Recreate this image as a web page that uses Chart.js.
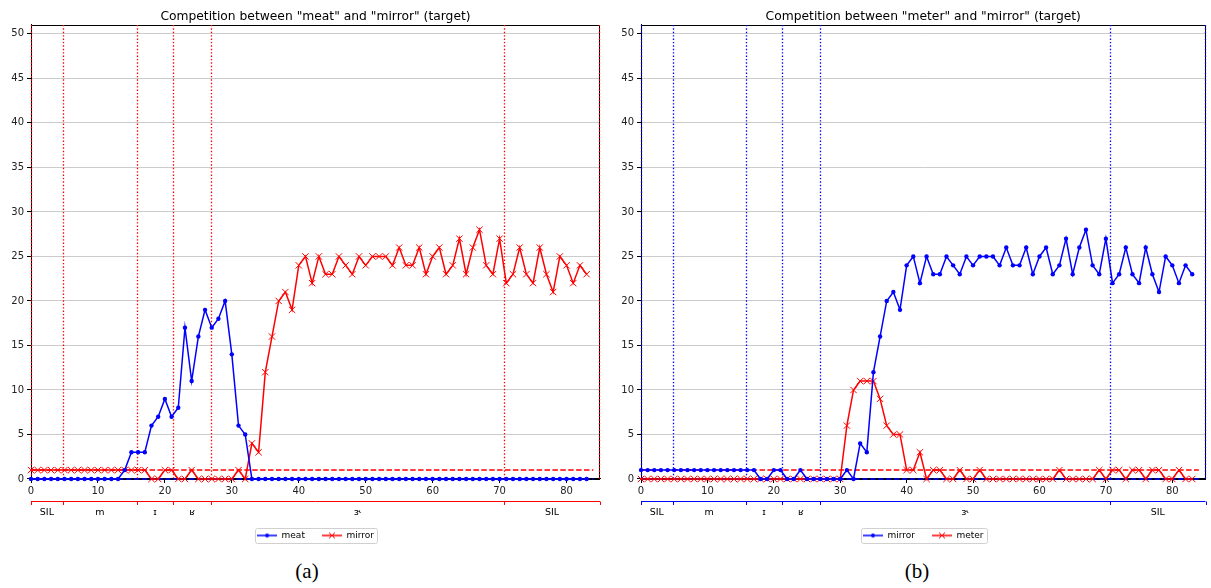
<!DOCTYPE html>
<html>
<head>
<meta charset="utf-8">
<script src="https://cdn.jsdelivr.net/npm/chart.js@4.4.1/dist/chart.umd.min.js"></script>
<style>
  body { margin:0; background:#fff; width:1211px; height:588px; position:relative; overflow:hidden; }
  #wrapA { position:absolute; left:0; top:0; width:610px; height:555px; }
  #wrapB { position:absolute; left:610px; top:0; width:601px; height:555px; }
  .cap { position:absolute; top:559px; width:60px; text-align:center; font-family:"Liberation Serif", serif; font-size:21px; color:#000; }
</style>
</head>
<body>
<div id="wrapA"><canvas id="chartA"></canvas></div>
<div id="wrapB"><canvas id="chartB"></canvas></div>
<div class="cap" style="left:277px">(a)</div>
<div class="cap" style="left:887px">(b)</div>
<script>
// frame counts per word (x = frame index 0..83)
var mirror = [
  1,1,1,1,1,1,1,1,1,1,
  1,1,1,1,1,1,1,1,0,0,
  1,1,0,0,1,0,0,0,0,0,
  0,1,0,4,3,12,16,20,21,19,
  24,25,22,25,23,23,25,24,23,25,
  24,25,25,25,24,26,24,24,26,23,
  25,26,23,24,27,23,26,28,24,23,
  27,22,23,26,23,22,26,23,21,25,
  24,22,24,23
];
var meat = [
  0,0,0,0,0,0,0,0,0,0,
  0,0,0,0,1,3,3,3,6,7,
  9,7,8,17,11,16,19,17,18,20,
  14,6,5,0,0,0,0,0,0,0,
  0,0,0,0,0,0,0,0,0,0,
  0,0,0,0,0,0,0,0,0,0,
  0,0,0,0,0,0,0,0,0,0,
  0,0,0,0,0,0,0,0,0,0,
  0,0,0,0
];
var meter = [
  0,0,0,0,0,0,0,0,0,0,
  0,0,0,0,0,0,0,0,0,0,
  0,0,0,0,0,0,0,0,0,0,
  0,6,10,11,11,11,9,6,5,5,
  1,1,3,0,1,1,0,0,1,0,
  0,1,0,0,0,0,0,0,0,0,
  0,0,0,1,0,0,0,0,0,1,
  0,1,1,0,1,1,0,1,1,0,
  0,1,0,0
];
// phone segments (boundaries in frames) shown under the x axis
var segBounds = [0, 4.75, 15.8, 21.25, 26.9, 70.65, 85];
var segLabels = ['SIL', 'm', 'ɪ', 'ʁ', 'ɝ', 'SIL'];
// dashed reference levels
var levelX = [0, 84];
var redLevel = 1;
var blueLevel = 0;
var xTicks = [0, 10, 20, 30, 40, 50, 60, 70, 80];
var yTicks = [0, 5, 10, 15, 20, 25, 30, 35, 40, 45, 50];

var BLUE = '#0000ff', RED = '#ff0000';
Chart.defaults.font.family = 'DejaVu Sans';
Chart.defaults.color = '#000';

function toPoints(arr) {
  var pts = [];
  for (var i = 0; i < arr.length; i++) pts.push({x: i, y: arr[i]});
  return pts;
}

function legendIcon(color, marker) {
  var c = document.createElement('canvas');
  c.width = 20; c.height = 10;
  var g = c.getContext('2d');
  g.strokeStyle = color; g.fillStyle = color; g.lineWidth = 1.5;
  g.beginPath(); g.moveTo(0, 5); g.lineTo(20, 5); g.stroke();
  if (marker == 'dot') {
    g.beginPath(); g.arc(10, 5, 2, 0, Math.PI * 2); g.fill();
  } else {
    g.lineWidth = 1;
    g.beginPath(); g.moveTo(7, 2); g.lineTo(13, 8); g.moveTo(13, 2); g.lineTo(7, 8); g.stroke();
  }
  return c;
}

// vertical segment lines, spines, segment bracket and legend frame
var extras = {
  id: 'extras',
  beforeDraw: function(chart) {
    var lg = chart.legend;
    if (!lg || !lg.legendHitBoxes || !lg.legendHitBoxes.length) return;
    var hb = lg.legendHitBoxes, last = hb[hb.length - 1];
    var l = Math.round(hb[0].left - 2) + 0.5, r = Math.round(last.left + last.width + 3) + 0.5;
    var t = Math.round(hb[0].top - 3) + 0.5, b = Math.round(hb[0].top + hb[0].height + 3) + 0.5;
    var ctx = chart.ctx;
    ctx.save();
    ctx.strokeStyle = '#d0d0d0'; ctx.lineWidth = 1;
    ctx.beginPath();
    ctx.roundRect(l, t, r - l, b - t, 2);
    ctx.stroke();
    ctx.restore();
  },
  beforeDatasetsDraw: function(chart, args, o) {
    var ctx = chart.ctx, a = chart.chartArea, xs = chart.scales.x;
    ctx.save();
    ctx.strokeStyle = '#000'; ctx.lineWidth = 1;
    ctx.strokeRect(Math.round(a.left) + 0.5, Math.round(a.top) + 0.5, Math.round(a.right - a.left) - 1, Math.round(a.bottom - a.top));
    ctx.strokeStyle = o.color; ctx.lineWidth = 1.3; ctx.setLineDash([1.4, 2]);
    for (var i = 0; i < segBounds.length; i++) {
      var px = Math.round(xs.getPixelForValue(segBounds[i])) + 0.5;
      if (i == segBounds.length - 1) px -= 1;
      ctx.beginPath(); ctx.moveTo(px, a.top); ctx.lineTo(px, a.bottom); ctx.stroke();
    }
    ctx.restore();
  },
  afterDatasetsDraw: function(chart, args, o) {
    var ctx = chart.ctx, a = chart.chartArea, xs = chart.scales.x;
    var yLine = Math.round(a.bottom + 22) + 0.5;
    ctx.save();
    ctx.strokeStyle = o.color; ctx.lineWidth = 1;
    var x0 = xs.getPixelForValue(segBounds[0]), x1 = xs.getPixelForValue(segBounds[segBounds.length - 1]);
    ctx.beginPath(); ctx.moveTo(x0, yLine); ctx.lineTo(x1, yLine); ctx.stroke();
    for (var i = 0; i < segBounds.length; i++) {
      var px = Math.round(xs.getPixelForValue(segBounds[i])) + 0.5;
      ctx.beginPath(); ctx.moveTo(px, yLine); ctx.lineTo(px, yLine + 3.5); ctx.stroke();
    }
    ctx.fillStyle = '#000'; ctx.font = '9.5px "DejaVu Sans"';
    ctx.textAlign = 'center'; ctx.textBaseline = 'middle';
    for (var k = 0; k < segLabels.length; k++) {
      var mid = (segBounds[k] + segBounds[k + 1]) / 2;
      ctx.fillText(segLabels[k], xs.getPixelForValue(mid), a.bottom + 34);
    }
    ctx.restore();
  }
};

function makeChart(id, title, blueName, blueData, redName, redData, segColor, padRight) {
  var data = {
    datasets: [{
      label: blueName,
      data: toPoints(blueData),
      borderColor: BLUE,
      backgroundColor: BLUE,
      borderWidth: 1.5,
      pointStyle: 'circle',
      pointRadius: 2.2,
      pointBorderWidth: 0,
      clip: false
    }, {
      label: redName,
      data: toPoints(redData),
      borderColor: RED,
      backgroundColor: RED,
      borderWidth: 1.5,
      pointStyle: 'crossRot',
      pointRadius: 4.5,
      pointBorderWidth: 1,
      clip: false
    }, {
      label: 'level red',
      data: [{x: levelX[0], y: redLevel}, {x: levelX[1], y: redLevel}],
      borderColor: RED,
      borderWidth: 1.5,
      borderDash: [5.5, 2.4],
      pointRadius: 0,
      clip: false
    }, {
      label: 'level blue',
      data: [{x: levelX[0], y: blueLevel}, {x: levelX[1], y: blueLevel}],
      borderColor: BLUE,
      borderWidth: 1.5,
      borderDash: [5.5, 2.4],
      pointRadius: 0,
      clip: false
    }]
  };

  var config = {
    type: 'line',
    data: data,
    plugins: [extras],
    options: {
      responsive: true,
      maintainAspectRatio: false,
      animation: false,
      events: [],
      layout: { padding: { left: 0, right: padRight, top: 0, bottom: 5 } },
      elements: { line: { tension: 0 } },
      scales: {
        x: {
          type: 'linear', min: 0, max: 85,
          afterBuildTicks: function(s) { s.ticks = xTicks.map(function(v) { return {value: v}; }); },
          ticks: { font: {size: 10}, color: '#222', padding: 2, maxRotation: 0, autoSkip: false },
          grid: { drawOnChartArea: false, tickLength: 4, tickColor: '#000' },
          border: { color: '#000' },
          afterFit: function(s) { s.height = 35; }
        },
        y: {
          min: 0, max: 51,
          afterBuildTicks: function(s) { s.ticks = yTicks.map(function(v) { return {value: v}; }); },
          ticks: { font: {size: 10}, color: '#222', padding: 3 },
          grid: { color: '#cccccc', tickColor: '#000', tickLength: 4 },
          border: { color: '#000' },
          afterFit: function(s) { s.width = 31; }
        }
      },
      plugins: {
        title: {
          display: true, text: title, fullSize: false,
          font: { size: 12.3, weight: 'normal' }, color: '#000',
          padding: { top: 9, bottom: 1.2 }
        },
        legend: {
          position: 'bottom', fullSize: false,
          labels: {
            usePointStyle: true, pointStyleWidth: 20, padding: 17,
            font: { size: 9 }, color: '#000',
            generateLabels: function() {
              return [
                {text: blueName, pointStyle: legendIcon(BLUE, 'dot'), fillStyle: BLUE, strokeStyle: BLUE, lineWidth: 0, datasetIndex: 0, hidden: false},
                {text: redName, pointStyle: legendIcon(RED, 'x'), fillStyle: RED, strokeStyle: RED, lineWidth: 0, datasetIndex: 1, hidden: false}
              ];
            }
          }
        },
        tooltip: { enabled: false },
        extras: { color: segColor }
      }
    }
  };
  return new Chart(document.getElementById(id), config);
}

var chartA = makeChart('chartA', 'Competition between "meat" and "mirror" (target)', 'meat', meat, 'mirror', mirror, RED, 10);
var chartB = makeChart('chartB', 'Competition between "meter" and "mirror" (target)', 'mirror', mirror, 'meter', meter, BLUE, 1);
</script>
</body>
</html>
